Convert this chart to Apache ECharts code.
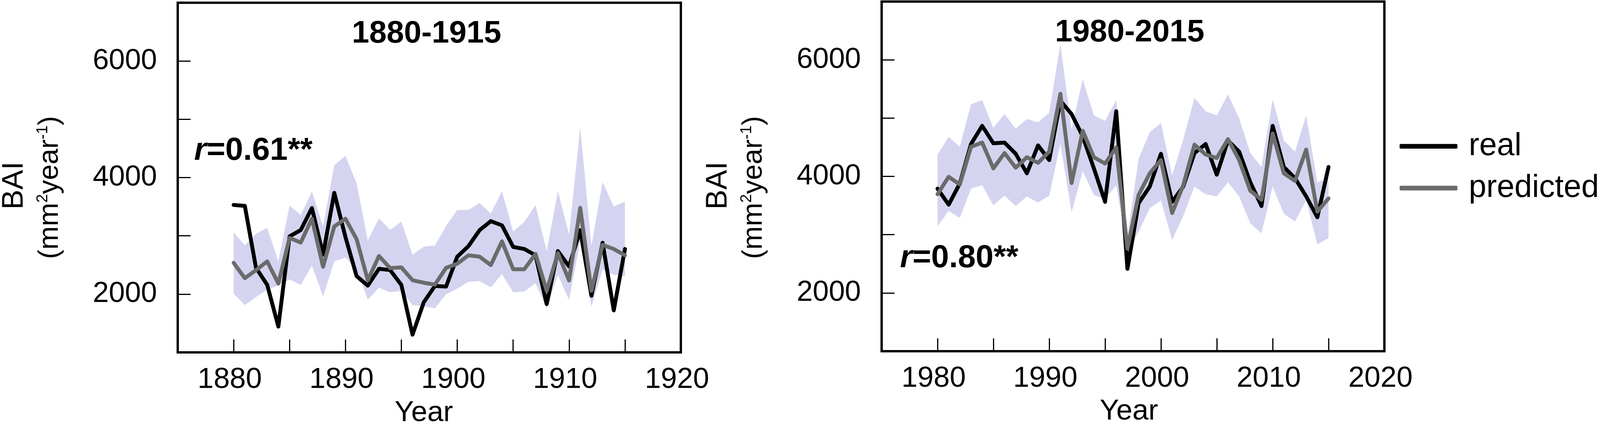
<!DOCTYPE html>
<html>
<head>
<meta charset="utf-8">
<title>BAI real vs predicted</title>
<script src="https://cdn.jsdelivr.net/npm/echarts@6/dist/echarts.min.js"></script>
<style>
    html, body { margin: 0; padding: 0; background: #fff; }
    #chart { width: 4181px; height: 1093px; }
</style>
</head>
<body>
<div id="chart"></div>
<script>
// 1880-1915 panel
var years1 = [1880, 1881, 1882, 1883, 1884, 1885, 1886, 1887, 1888, 1889,
    1890, 1891, 1892, 1893, 1894, 1895, 1896, 1897, 1898, 1899,
    1900, 1901, 1902, 1903, 1904, 1905, 1906, 1907, 1908, 1909,
    1910, 1911, 1912, 1913, 1914, 1915];
var real1 = [3530, 3514, 2450, 2160, 1443, 2990, 3099, 3477, 2677, 3738,
    2980, 2308, 2146, 2435, 2412, 2158, 1304, 1858, 2140, 2130,
    2642, 2822, 3097, 3252, 3180, 2810, 2774, 2666, 1828, 2738,
    2475, 3097, 1972, 2881, 1721, 2774];
var pred1 = [2538, 2273, 2411, 2561, 2181, 2965, 2884, 3293, 2469, 3161,
    3293, 2942, 2238, 2654, 2446, 2458, 2238, 2195, 2163, 2450,
    2522, 2666, 2642, 2498, 2905, 2427, 2427, 2690, 2056, 2702,
    2235, 3480, 2056, 2845, 2774, 2666];
var upper1 = [3058, 2838, 3034, 3138, 2561, 3519, 3357, 3761, 3161, 4211,
    4373, 3900, 2919, 3300, 3104, 3242, 2677, 2815, 2833, 3168,
    3444, 3444, 3563, 3384, 3767, 3073, 3240, 3527, 2738, 3767,
    3025, 4867, 2833, 3922, 3503, 3587];
var lower1 = [2008, 1812, 1950, 2077, 2150, 2250, 2158, 2492, 1962, 2561,
    2631, 2420, 1904, 2112, 2031, 2054, 1812, 1790, 1757, 1996,
    2092, 2211, 2223, 2116, 2343, 2032, 2044, 2187, 1757, 2331,
    1900, 2905, 1781, 2427, 2331, 2307];

// 1980-2015 panel
var years2 = [1980, 1981, 1982, 1983, 1984, 1985, 1986, 1987, 1988, 1989,
    1990, 1991, 1992, 1993, 1994, 1995, 1996, 1997, 1998, 1999,
    2000, 2001, 2002, 2003, 2004, 2005, 2006, 2007, 2008, 2009,
    2010, 2011, 2012, 2013, 2014, 2015];
var real2 = [3790, 3515, 3880, 4556, 4867, 4568, 4580, 4388, 4053, 4532,
    4280, 5298, 5070, 4687, 4137, 3563, 5118, 2414, 3539, 3826,
    4388, 3563, 3826, 4400, 4556, 4029, 4615, 4424, 3898, 3491,
    4867, 4161, 3969, 3658, 3299, 4161];
var pred2 = [3694, 3993, 3862, 4508, 4580, 4137, 4400, 4149, 4328, 4233,
    4424, 5417, 3886, 4783, 4328, 4221, 4496, 2761, 3682, 4053,
    4280, 3371, 3850, 4544, 4376, 4316, 4639, 4280, 3754, 3598,
    4735, 4053, 3922, 4460, 3395, 3622];
var upper2 = [4376, 4675, 4508, 5238, 5309, 4831, 5070, 4819, 4986, 4927,
    5094, 6271, 4807, 5668, 5046, 4951, 5309, 2980, 4304, 4759,
    4915, 4017, 4639, 5345, 5118, 5046, 5405, 4998, 4400, 4161,
    5321, 4616, 4424, 5046, 3898, 3969];
var lower2 = [3144, 3407, 3287, 3790, 3850, 3503, 3670, 3491, 3658, 3551,
    3670, 4556, 3383, 4089, 3682, 3611, 3850, 2700, 3050, 3455,
    3587, 2904, 3323, 3826, 3694, 3658, 3898, 3658, 3192, 3024,
    3826, 3359, 3228, 3587, 2833, 2940];

var titles = ['1880-1915', '1980-2015'];
var rValues = ['0.61', '0.80'];
var xRanges = [[1875, 1920], [1975, 2020]];
var yTicks = [2000, 4000, 6000];

var FONT = '"Liberation Sans", Arial, Helvetica, sans-serif';
var BAND = '#d4d4f1';
var GREY = '#6b6b6b';

var chart = echarts.init(document.getElementById('chart'));

function pairs(xs, ys) {
    return xs.map(function (x, i) {
        return [x, ys[i]];
    });
}

// 置信带：一个多边形，上沿+反向下沿
function bandSeries(idx, xs, lo, hi) {
    return {
        type: 'custom',
        xAxisIndex: idx,
        yAxisIndex: idx,
        silent: true,
        z: 1,
        data: xs.map(function (x, i) {
            return [x, lo[i], hi[i]];
        }),
        renderItem: function (params, api) {
            if (params.dataIndex !== 0) {
                return null;
            }
            var pts = [];
            for (var i = 0; i < xs.length; i++) {
                pts.push(api.coord([xs[i], hi[i]]));
            }
            for (var j = xs.length - 1; j >= 0; j--) {
                pts.push(api.coord([xs[j], lo[j]]));
            }
            return {
                type: 'polygon',
                shape: {points: pts},
                style: {fill: BAND}
            };
        }
    };
}

function lineSeries(idx, name, xs, ys, color, z) {
    return {
        type: 'line',
        name: name,
        xAxisIndex: idx,
        yAxisIndex: idx,
        data: pairs(xs, ys),
        symbol: 'none',
        color: color,
        z: z,
        lineStyle: {color: color, width: 10, join: 'round', cap: 'round'}
    };
}

function xAxis(idx) {
    return {
        type: 'value',
        gridIndex: idx,
        min: xRanges[idx][0],
        max: xRanges[idx][1],
        interval: 5,
        splitLine: {show: false},
        axisLine: {show: false},
        axisTick: {show: true, inside: true, length: 33, lineStyle: {color: '#000', width: 3}},
        axisLabel: {
            show: true,
            showMinLabel: true,
            showMaxLabel: true,
            margin: 34,
            padding: [0, 20, 0, 0],
            fontFamily: FONT,
            fontSize: 74,
            color: '#000',
            formatter: function (v) {
                return (v % 10 === 0) ? String(v) : '';
            }
        }
    };
}

function yAxis(idx) {
    return {
        type: 'value',
        gridIndex: idx,
        min: 1000,
        max: 7000,
        interval: 1000,
        splitLine: {show: false},
        axisLine: {show: false},
        axisTick: {show: true, inside: true, length: 33, lineStyle: {color: '#000', width: 3}},
        axisLabel: {
            margin: 53,
            fontFamily: FONT,
            fontSize: 74,
            color: '#000',
            formatter: function (v) {
                return yTicks.indexOf(v) >= 0 ? String(v) : '';
            }
        }
    };
}

function text(x, y, str, size, weight, extra) {
    var el = {
        type: 'text',
        x: x,
        y: y,
        silent: true,
        style: {
            text: str,
            fontFamily: FONT,
            fontSize: size,
            fontWeight: weight,
            fill: '#000',
            textAlign: 'center',
            textVerticalAlign: 'middle'
        }
    };
    if (extra) {
        for (var k in extra) {
            el[k] = extra[k];
        }
    }
    return el;
}

function rLabel(x, y, val) {
    return {
        type: 'text',
        x: x,
        y: y,
        silent: true,
        style: {
            text: '{i|r}{b|=' + val + '**}',
            textAlign: 'left',
            textVerticalAlign: 'middle',
            rich: {
                i: {fontFamily: FONT, fontSize: 82, fontWeight: 'bold', fontStyle: 'italic', fill: '#000'},
                b: {fontFamily: FONT, fontSize: 82, fontWeight: 'bold', fill: '#000'}
            }
        }
    };
}

// y 轴标题：BAI + 单位两行，竖排
function yName(cx) {
    return [
        text(cx, 475, 'BAI', 76, 'normal', {rotation: Math.PI / 2}),
        {
            type: 'text',
            x: cx + 91,
            y: 480,
            rotation: Math.PI / 2,
            silent: true,
            style: {
                text: '{n|(mm}{s|2}{n|year}{s|-1}{n|)}',
                textAlign: 'center',
                textVerticalAlign: 'middle',
                rich: {
                    n: {fontFamily: FONT, fontSize: 72, fill: '#000', lineHeight: 76},
                    s: {fontFamily: FONT, fontSize: 40, fill: '#000', verticalAlign: 'top', lineHeight: 40}
                }
            }
        }
    ];
}

var grids = [
    {left: 455, top: 7, width: 1288, height: 895},
    {left: 2257, top: 4, width: 1287, height: 895}
];

var option = {
    animation: false,
    backgroundColor: '#fff',
    grid: grids.map(function (g) {
        return {
            left: g.left, top: g.top, width: g.width, height: g.height,
            show: true, borderColor: '#000', borderWidth: 6,
            backgroundColor: 'transparent',
            containLabel: false,
            outerBoundsMode: 'none'
        };
    }),
    xAxis: [xAxis(0), xAxis(1)],
    yAxis: [yAxis(0), yAxis(1)],
    legend: {
        data: ['real', 'predicted'],
        orient: 'vertical',
        left: 3583,
        top: 334,
        icon: 'roundRect',
        itemWidth: 148,
        itemHeight: 12,
        itemGap: 26,
        padding: 0,
        textStyle: {
            fontFamily: FONT,
            fontSize: 81,
            color: '#000',
            padding: [0, 0, 0, 24]
        }
    },
    graphic: [
        text(1092, 87, titles[0], 80, 'bold'),
        text(2892, 84, titles[1], 80, 'bold'),
        rLabel(497, 386, rValues[0]),
        rLabel(2304, 661, rValues[1]),
        text(1085, 1058, 'Year', 74, 'normal'),
        text(2890, 1054, 'Year', 74, 'normal')
    ].concat(yName(37)).concat(yName(1839)),
    series: [
        bandSeries(0, years1, lower1, upper1),
        lineSeries(0, 'real', years1, real1, '#000', 3),
        lineSeries(0, 'predicted', years1, pred1, GREY, 4),
        bandSeries(1, years2, lower2, upper2),
        lineSeries(1, 'real', years2, real2, '#000', 3),
        lineSeries(1, 'predicted', years2, pred2, GREY, 4)
    ]
};

chart.setOption(option);
</script>
</body>
</html>
